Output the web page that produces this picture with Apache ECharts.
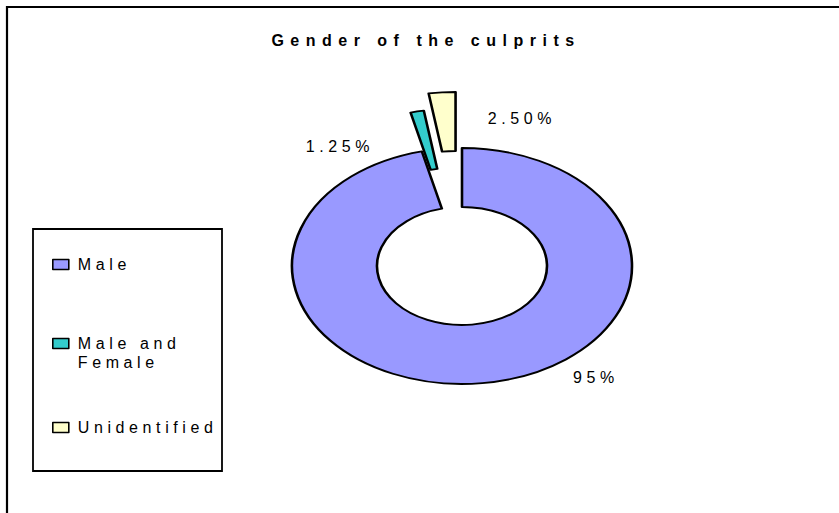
<!DOCTYPE html>
<html>
<head>
<meta charset="utf-8">
<title>Gender of the culprits</title>
<script src="https://cdn.jsdelivr.net/npm/echarts@6/dist/echarts.min.js"></script>
<style>
  html, body { margin: 0; padding: 0; background: #fff; overflow: hidden; }
  #wrap { position: relative; width: 839px; height: 513px; }
  #main { position: absolute; left: 0; top: 0; width: 839px; height: 513px; }
  /* the original pie is drawn flattened, so the pie layer is squashed vertically */
  #pie { position: absolute; left: 0; top: 0; width: 839px; height: 739px;
         transform-origin: 0 0; transform: scaleY(0.694); }
  #main text { letter-spacing: 4.6px; }
  #main text[style*="bold"], #main text[font-weight="bold"] { letter-spacing: 6.5px; }
</style>
</head>
<body>
<div id="wrap">
  <div id="main"></div>
  <div id="pie"></div>
</div>
<script>
const titleText = 'Gender of the culprits'
const categories = ['Male', 'Male and Female', 'Unidentified']
const values = [95, 1.25, 2.5]
const pctLabels = ['95%', '1.25%', '2.50%']

const FONT = '"Liberation Sans", Arial, sans-serif'
const PALETTE = ['#9999ff', '#33cccc', '#ffffcc']
const squash = 0.694

const mainChart = echarts.init(document.getElementById('main'), null, { renderer: 'svg' })
const pieChart = echarts.init(document.getElementById('pie'), null, { renderer: 'svg' })

const legendCommon = {
  orient: 'vertical',
  left: 52,
  padding: 0,
  icon: 'rect',
  itemWidth: 16,
  itemHeight: 10,
  selectedMode: false,
  itemStyle: { borderColor: '#000', borderWidth: 1.6 },
  textStyle: { fontFamily: FONT, fontSize: 16, color: '#000', lineHeight: 19, padding: [0, 0, 0, 4] },
}

const labelStyle = (text) => ({
  text,
  fill: '#000',
  font: '16px ' + FONT,
  align: 'center',
  verticalAlign: 'middle',
})

mainChart.setOption({
  animation: false,
  color: PALETTE,
  title: {
    text: titleText,
    left: 426,
    top: 32,
    textAlign: 'center',
    padding: 0,
    textStyle: { fontFamily: FONT, fontSize: 16, fontWeight: 'bold', color: '#000' },
  },
  legend: [
    { ...legendCommon, top: 255, data: [categories[0]] },
    // icon sits next to the first line of the wrapped name
    { ...legendCommon, top: 315, data: [categories[1]], formatter: name => ' \n' + name.replace(' and ', ' and\n') },
    { ...legendCommon, top: 418, data: [categories[2]] },
  ],
  graphic: [
    { type: 'rect', silent: true, shape: { x: 7, y: 7, width: 845, height: 520 },
      style: { fill: 'none', stroke: '#000', lineWidth: 2.2 } },
    { type: 'rect', silent: true, shape: { x: 33, y: 229, width: 189, height: 242 },
      style: { fill: 'none', stroke: '#000', lineWidth: 1.8 } },
    { type: 'text', silent: true, x: 596, y: 377, style: labelStyle(pctLabels[0]) },
    { type: 'text', silent: true, x: 340, y: 146, style: labelStyle(pctLabels[1]) },
    { type: 'text', silent: true, x: 522, y: 118, style: labelStyle(pctLabels[2]) },
  ],
  // off-screen copy of the data, only there so the legend has something to point at
  series: [{
    type: 'pie',
    silent: true,
    center: [-300, -300],
    radius: 4,
    label: { show: false },
    labelLine: { show: false },
    data: categories.map((name, i) => ({ name, value: values[i] })),
  }],
})

// two layers so the exploded slices can have different offsets
const pieData = (visible, selectedIdx) => categories.map((name, i) => ({
  name,
  value: values[i],
  selected: i === selectedIdx,
  itemStyle: visible.includes(i) ? {} : { opacity: 0, borderWidth: 0 },
}))

const pieCommon = {
  type: 'pie',
  silent: true,
  center: [462, 266 / squash],
  radius: [85, 170],
  startAngle: 90,
  clockwise: true,
  selectedMode: 'multiple',
  label: { show: false },
  labelLine: { show: false },
  emphasis: { disabled: true },
  itemStyle: { borderColor: '#000', borderWidth: 2.6 },
}

pieChart.setOption({
  animation: false,
  color: PALETTE,
  series: [
    { ...pieCommon, selectedOffset: 57, data: pieData([0, 1], 1) },
    { ...pieCommon, selectedOffset: 81, data: pieData([2], 2) },
  ],
})
</script>
</body>
</html>
